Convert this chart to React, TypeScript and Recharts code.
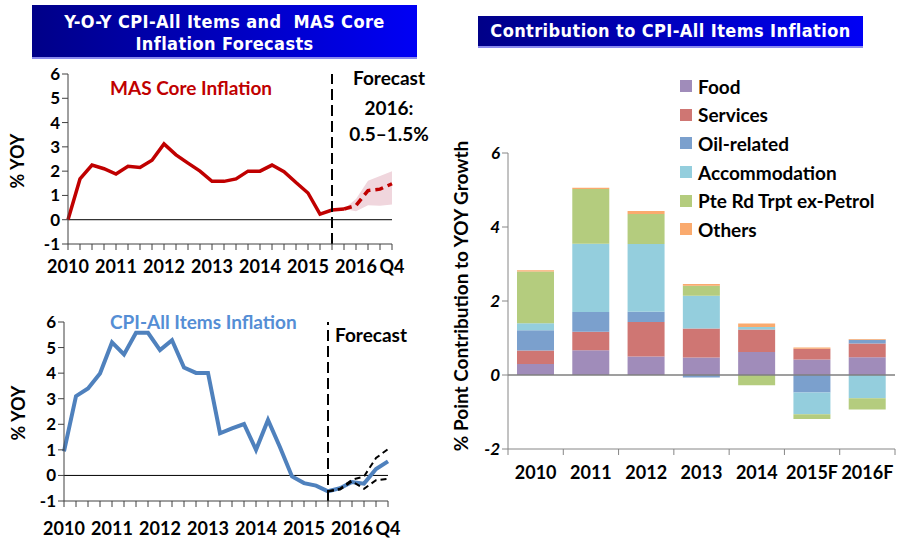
import React from "react";
import {
  ComposedChart,
  BarChart,
  Bar,
  Line,
  Area,
  XAxis,
  YAxis,
  ReferenceLine,
} from "recharts";

// quarters on the two line charts
const QUARTERS = [
  "2010Q1", "2010Q2", "2010Q3", "2010Q4",
  "2011Q1", "2011Q2", "2011Q3", "2011Q4",
  "2012Q1", "2012Q2", "2012Q3", "2012Q4",
  "2013Q1", "2013Q2", "2013Q3", "2013Q4",
  "2014Q1", "2014Q2", "2014Q3", "2014Q4",
  "2015Q1", "2015Q2", "2015Q3", "2015Q4",
  "2016Q1", "2016Q2", "2016Q3", "2016Q4",
];
const QUARTER_LABELS = [
  "2010", "", "", "",
  "2011", "", "", "",
  "2012", "", "", "",
  "2013", "", "", "",
  "2014", "", "", "",
  "2015", "", "", "",
  "2016", "", "", "Q4",
];
const FORECAST_START = "2015Q3";

// MAS core inflation, % yoy
const CORE_ACTUAL = [
  0.0, 1.68, 2.25, 2.1, 1.88, 2.2, 2.15, 2.45, 3.12, 2.67, 2.33, 2.0,
  1.58, 1.58, 1.68, 2.0, 2.0, 2.25, 1.98, 1.53, 1.1, 0.23, 0.4, 0.44,
  null, null, null, null,
];
const CORE_FORECAST = [
  null, null, null, null, null, null, null, null, null, null, null, null,
  null, null, null, null, null, null, null, null, null, null, null, 0.44,
  0.59, 1.2, 1.26, 1.48,
];
const CORE_LOW = [
  null, null, null, null, null, null, null, null, null, null, null, null,
  null, null, null, null, null, null, null, null, null, null, null, 0.44,
  0.35, 0.6, 0.58, 0.63,
];
const CORE_HIGH = [
  null, null, null, null, null, null, null, null, null, null, null, null,
  null, null, null, null, null, null, null, null, null, null, null, 0.44,
  0.85, 1.6, 1.8, 2.0,
];

// CPI-All Items inflation, % yoy
const CPI = [
  0.94, 3.1, 3.4, 3.99, 5.2, 4.73, 5.58, 5.58, 4.9, 5.29, 4.22, 4.01,
  4.01, 1.65, 1.84, 2.01, 1.0, 2.17, 1.1, -0.04, -0.3, -0.4, -0.62, -0.5,
  -0.26, -0.32, 0.25, 0.55,
];
const CPI_UPPER = [
  null, null, null, null, null, null, null, null, null, null, null, null,
  null, null, null, null, null, null, null, null, null, null, -0.62, -0.52,
  -0.17, -0.04, 0.68, 1.03,
];
const CPI_LOWER = [
  null, null, null, null, null, null, null, null, null, null, null, null,
  null, null, null, null, null, null, null, null, null, null, -0.62, -0.55,
  -0.23, -0.52, -0.19, -0.13,
];

// contribution to CPI-All Items inflation, % points
const YEARS = ["2010", "2011", "2012", "2013", "2014", "2015F", "2016F"];
const FOOD = [0.3, 0.67, 0.5, 0.47, 0.62, 0.42, 0.48];
const SERVICES = [0.36, 0.5, 0.93, 0.79, 0.61, 0.29, 0.37];
const OIL = [0.55, 0.53, 0.28, -0.07, 0.0, -0.47, 0.1];
const ACCOMMODATION = [0.19, 1.85, 1.83, 0.88, 0.07, -0.59, -0.63];
const PTE_RD = [1.4, 1.48, 0.81, 0.27, -0.28, -0.13, -0.3];
const OTHERS = [0.03, 0.03, 0.08, 0.05, 0.09, 0.03, 0.02];

const SERIES = [
  { key: "food", name: "Food", color: "#A08CBA", values: FOOD },
  { key: "services", name: "Services", color: "#CF7673", values: SERVICES },
  { key: "oil", name: "Oil-related", color: "#7BA0CD", values: OIL },
  { key: "accom", name: "Accommodation", color: "#94CEDD", values: ACCOMMODATION },
  { key: "pte", name: "Pte Rd Trpt ex-Petrol", color: "#B4CC7E", values: PTE_RD },
  { key: "others", name: "Others", color: "#FAAA6E", values: OTHERS },
];

const LINE_TICKS = [-1, 0, 1, 2, 3, 4, 5, 6];
const BAR_TICKS = [-2, 0, 2, 4, 6];

const coreData = QUARTERS.map((q, i) => ({
  q,
  actual: CORE_ACTUAL[i],
  forecast: CORE_FORECAST[i],
  band: CORE_LOW[i] == null ? null : [CORE_LOW[i], CORE_HIGH[i]],
}));

const cpiData = QUARTERS.map((q, i) => ({
  q,
  cpi: CPI[i],
  upper: CPI_UPPER[i],
  lower: CPI_LOWER[i],
}));

const barData = YEARS.map((year, i) => {
  const row: any = { year };
  SERIES.forEach((s) => (row[s.key] = s.values[i]));
  return row;
});

const FONT = "Lato, 'Open Sans', sans-serif";
const TITLE_FONT = "'DejaVu Sans Condensed', 'DejaVu Sans', sans-serif";
const axisGrey = "#404040";
const yTickStyle = { fontSize: 17, fontWeight: 700, fill: "#000", fontFamily: FONT };
const xTickStyle = { ...yTickStyle, fontSize: 18 };

const quarterLabel = (v: string) => QUARTER_LABELS[QUARTERS.indexOf(v)];

function YearTick(props: any) {
  const { x, y, payload, index } = props;
  const half = payload.offset ?? 27.7;
  const top = y - 17;
  return (
    <g>
      <line x1={x - half} x2={x - half} y1={top} y2={top + 6} stroke="#868686" />
      {index === YEARS.length - 1 && (
        <line x1={x + half} x2={x + half} y1={top} y2={top + 6} stroke="#868686" />
      )}
      <text
        x={x}
        y={y}
        dy="0.71em"
        textAnchor="middle"
        fontSize={18}
        fontWeight={700}
        fontFamily={FONT}
        fill="#000"
      >
        {payload.value}
      </text>
    </g>
  );
}

function Rotated({ x, y, text, size = 18 }: any) {
  return (
    <div
      style={{
        position: "absolute",
        left: x,
        top: y,
        transform: "translate(-50%, -50%) rotate(-90deg)",
        whiteSpace: "nowrap",
        fontFamily: FONT,
        fontWeight: 700,
        fontSize: size,
      }}
    >
      {text}
    </div>
  );
}

function Note({ x, y, text, color = "#000", size = 19, align = "left" }: any) {
  return (
    <div
      style={{
        position: "absolute",
        left: x,
        top: y,
        transform: align === "center" ? "translateX(-50%)" : undefined,
        whiteSpace: "nowrap",
        fontFamily: FONT,
        fontWeight: 700,
        fontSize: size,
        color,
        lineHeight: 1,
      }}
    >
      {text}
    </div>
  );
}

const titleBox: React.CSSProperties = {
  position: "absolute",
  background: "linear-gradient(to right, #000088, #0000F5)",
  borderBottom: "2px solid #8A8AEE",
  color: "#fff",
  fontFamily: TITLE_FONT,
  fontWeight: 700,
  fontSize: 18,
  letterSpacing: 0.4,
  textAlign: "center",
  boxSizing: "border-box",
};

export default function App() {
  return (
    <div
      style={{
        position: "absolute",
        left: 0,
        top: 0,
        width: 897,
        height: 540,
        background: "#fff",
        overflow: "hidden",
      }}
    >
      {/* titles */}
      <div style={{ ...titleBox, left: 32, top: 5, width: 385, height: 54, lineHeight: "22px", paddingTop: 6 }}>
        Y-O-Y CPI-All Items and&nbsp; MAS Core
        <br />
        Inflation Forecasts
      </div>
      <div style={{ ...titleBox, left: 478, top: 16, width: 385, height: 32, lineHeight: "30px" }}>
        Contribution to CPI-All Items Inflation
      </div>

      {/* MAS core inflation */}
      <div style={{ position: "absolute", left: 0, top: 60 }}>
        <ComposedChart
          width={440}
          height={220}
          data={coreData}
          margin={{ top: 14, right: 48, bottom: 0, left: 0 }}
        >
          <XAxis
            dataKey="q"
            interval={0}
            tickFormatter={quarterLabel}
            tick={xTickStyle}
            tickSize={6}
            tickMargin={10}
            height={36}
            axisLine={{ stroke: axisGrey }}
            tickLine={{ stroke: axisGrey }}
          />
          <YAxis
            domain={[-1, 6]}
            ticks={LINE_TICKS}
            interval={0}
            width={68}
            tick={yTickStyle}
            tickSize={6}
            axisLine={{ stroke: axisGrey }}
            tickLine={{ stroke: axisGrey }}
          />
          <ReferenceLine y={0} stroke="#000" strokeWidth={1} />
          <Area
            dataKey="band"
            stroke="none"
            fill="#F0D6DD"
            fillOpacity={1}
            isAnimationActive={false}
          />
          <Line
            dataKey="actual"
            stroke="#C00000"
            strokeWidth={3.5}
            dot={false}
            isAnimationActive={false}
          />
          <Line
            dataKey="forecast"
            stroke="#C00000"
            strokeWidth={3.5}
            strokeDasharray="8 5"
            dot={false}
            isAnimationActive={false}
          />
          <ReferenceLine
            x={FORECAST_START}
            stroke="#000"
            strokeWidth={2}
            strokeDasharray="11 5"
          />
        </ComposedChart>
      </div>
      <Rotated x={17} y={161} text="% YOY" />
      <Note x={110} y={78} text="MAS Core Inflation" color="#C00000" />
      <Note x={389} y={68} text="Forecast" align="center" />
      <Note x={389} y={98} text="2016:" align="center" />
      <Note x={389} y={124} text="0.5–1.5%" align="center" />

      {/* CPI-All Items inflation */}
      <div style={{ position: "absolute", left: 0, top: 300 }}>
        <ComposedChart
          width={440}
          height={240}
          data={cpiData}
          margin={{ top: 22, right: 52, bottom: 0, left: 0 }}
        >
          <XAxis
            dataKey="q"
            interval={0}
            tickFormatter={quarterLabel}
            tick={xTickStyle}
            tickSize={6}
            tickMargin={15}
            height={39}
            axisLine={{ stroke: axisGrey }}
            tickLine={{ stroke: axisGrey }}
          />
          <YAxis
            domain={[-1, 6]}
            ticks={LINE_TICKS}
            interval={0}
            width={64}
            tick={yTickStyle}
            tickSize={6}
            axisLine={{ stroke: axisGrey }}
            tickLine={{ stroke: axisGrey }}
          />
          <ReferenceLine y={0} stroke="#000" strokeWidth={1} />
          <Line
            dataKey="cpi"
            stroke="#4F81BD"
            strokeWidth={4}
            dot={false}
            isAnimationActive={false}
          />
          <Line
            dataKey="upper"
            stroke="#000"
            strokeWidth={2}
            strokeDasharray="6 4"
            dot={false}
            isAnimationActive={false}
          />
          <Line
            dataKey="lower"
            stroke="#000"
            strokeWidth={2}
            strokeDasharray="6 4"
            dot={false}
            isAnimationActive={false}
          />
          <ReferenceLine
            x={FORECAST_START}
            stroke="#000"
            strokeWidth={2}
            strokeDasharray="11 5"
          />
        </ComposedChart>
      </div>
      <Rotated x={18} y={413} text="% YOY" />
      <Note x={110} y={312} text="CPI-All Items Inflation" color="#558ED5" />
      <Note x={335} y={325} text="Forecast" />

      {/* contributions */}
      <div style={{ position: "absolute", left: 440, top: 130 }}>
        <BarChart
          width={457}
          height={370}
          data={barData}
          stackOffset="sign"
          barSize={37}
          margin={{ top: 23, right: 2, bottom: 0, left: 0 }}
        >
          <XAxis
            dataKey="year"
            interval={0}
            tick={<YearTick />}
            tickLine={false}
            tickSize={0}
            tickMargin={17}
            height={51}
            axisLine={{ stroke: "#868686" }}
          />
          <YAxis
            domain={[-2, 6]}
            ticks={BAR_TICKS}
            interval={0}
            width={68}
            tick={{ ...yTickStyle, fontStyle: "italic" }}
            tickSize={6}
            axisLine={{ stroke: "#868686" }}
            tickLine={{ stroke: "#868686" }}
          />
          {SERIES.map((s) => (
            <Bar
              key={s.key}
              dataKey={s.key}
              name={s.name}
              stackId="a"
              fill={s.color}
              isAnimationActive={false}
            />
          ))}
          <ReferenceLine y={0} stroke="#7F7F7F" strokeWidth={1.5} />
        </BarChart>
      </div>
      <Rotated x={460} y={296} text="% Point Contribution to YOY Growth" size={19} />

      {/* legend */}
      <div style={{ position: "absolute", left: 680, top: 72 }}>
        {SERIES.map((s) => (
          <div
            key={s.key}
            style={{ display: "flex", alignItems: "center", height: 28.6 }}
          >
            <div style={{ width: 12, height: 12, background: s.color, marginRight: 6 }} />
            <span style={{ fontFamily: FONT, fontWeight: 700, fontSize: 19 }}>
              {s.name}
            </span>
          </div>
        ))}
      </div>
    </div>
  );
}
